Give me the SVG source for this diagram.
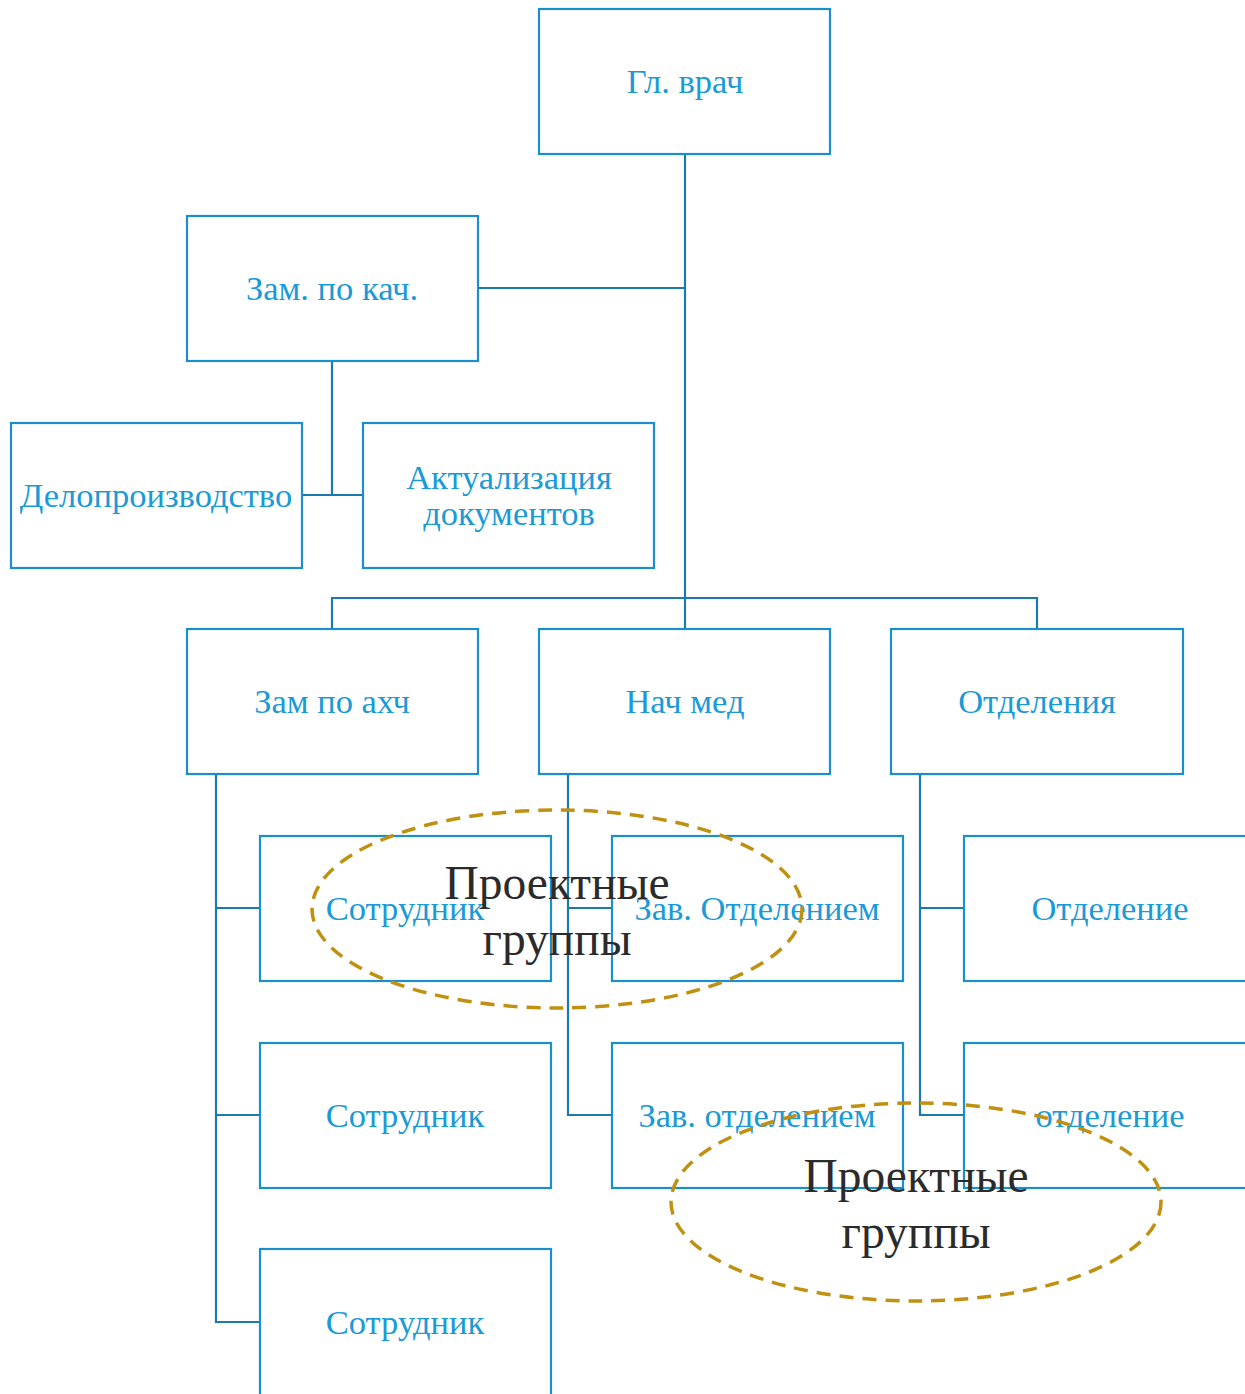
<svg xmlns="http://www.w3.org/2000/svg" width="1245" height="1394" viewBox="0 0 1245 1394">
<style>
.box{fill:#fff;stroke:#1a8fca;stroke-width:2.2}
.lbl{font-family:"Liberation Serif",serif;font-size:34.5px;fill:#1a9ad6;text-anchor:middle}
.con{fill:none;stroke:#1a7ab0;stroke-width:2.2}
.grp{fill:none;stroke:#c09010;stroke-width:3.5;stroke-dasharray:14 9}
.gt{font-family:"Liberation Serif",serif;font-size:47.5px;fill:#2b2b2b;text-anchor:middle}
</style>
<rect width="1245" height="1394" fill="#fff"/>
<g id="connectors">
<path class="con" d="M685 154V598M478 288H685M332 361V495M302 495H363M332 629V598H1037V629M685 598V629"/>
<path class="con" d="M216 774V1322H260M216 908H260M216 1115H260"/>
<path class="con" d="M568 774V1115H612M568 908H612"/>
<path class="con" d="M920 774V1115H964M920 908H964"/>
</g>
<g id="n-glvrach"><rect class="box" x="539" y="9" width="291" height="145"/><text class="lbl" x="685" y="93">Гл. врач</text></g>
<g id="n-zamkach"><rect class="box" x="187" y="216" width="291" height="145"/><text class="lbl" x="332" y="300">Зам. по кач.</text></g>
<g id="n-delo"><rect class="box" x="11" y="423" width="291" height="145"/><text class="lbl" x="156" y="507">Делопроизводство</text></g>
<g id="n-aktual"><rect class="box" x="363" y="423" width="291" height="145"/><text class="lbl" x="509" y="489">Актуализация</text><text class="lbl" x="509" y="525">документов</text></g>
<g id="n-zamahch"><rect class="box" x="187" y="629" width="291" height="145"/><text class="lbl" x="332" y="713">Зам по ахч</text></g>
<g id="n-nachmed"><rect class="box" x="539" y="629" width="291" height="145"/><text class="lbl" x="685" y="713">Нач мед</text></g>
<g id="n-otdeleniya"><rect class="box" x="891" y="629" width="292" height="145"/><text class="lbl" x="1037" y="713">Отделения</text></g>
<g id="n-sotr1"><rect class="box" x="260" y="836" width="291" height="145"/><text class="lbl" x="405" y="920">Сотрудник</text></g>
<g id="n-zav1"><rect class="box" x="612" y="836" width="291" height="145"/><text class="lbl" x="757" y="920">Зав. Отделением</text></g>
<g id="n-otd1"><rect class="box" x="964" y="836" width="291" height="145"/><text class="lbl" x="1110" y="920">Отделение</text></g>
<g id="n-sotr2"><rect class="box" x="260" y="1043" width="291" height="145"/><text class="lbl" x="405" y="1127">Сотрудник</text></g>
<g id="n-zav2"><rect class="box" x="612" y="1043" width="291" height="145"/><text class="lbl" x="757" y="1127">Зав. отделением</text></g>
<g id="n-otd2"><rect class="box" x="964" y="1043" width="291" height="145"/><text class="lbl" x="1110" y="1127">отделение</text></g>
<g id="n-sotr3"><rect class="box" x="260" y="1249" width="291" height="150"/><text class="lbl" x="405" y="1334">Сотрудник</text></g>
<g id="g-proj1"><ellipse class="grp" cx="557" cy="909" rx="245" ry="99"/><text class="gt" x="557" y="899">Проектные</text><text class="gt" x="557" y="955">группы</text></g>
<g id="g-proj2"><ellipse class="grp" cx="916" cy="1202" rx="245" ry="99"/><text class="gt" x="916" y="1192">Проектные</text><text class="gt" x="916" y="1248">группы</text></g>
</svg>
